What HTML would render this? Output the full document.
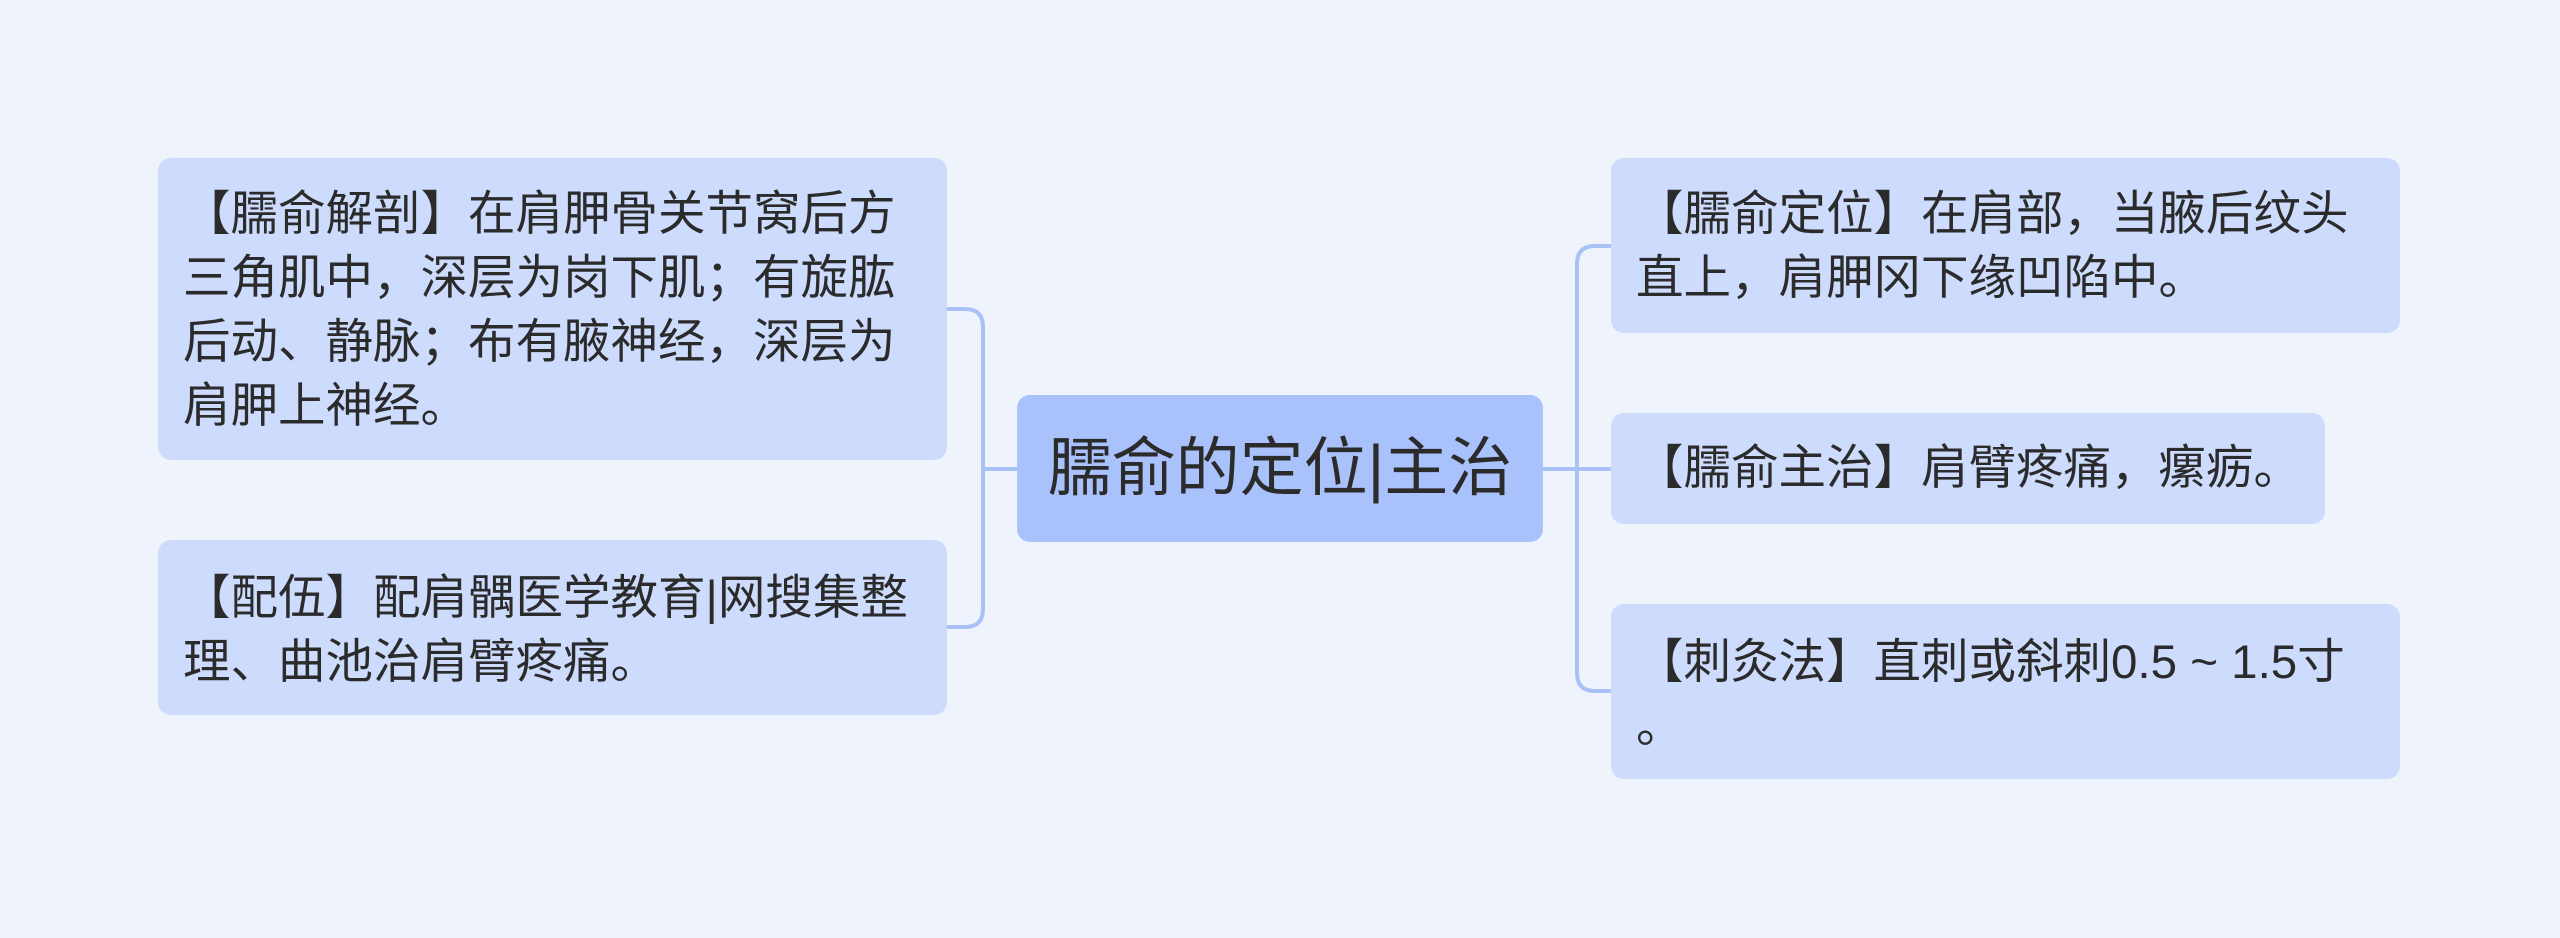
<!DOCTYPE html>
<html><head><meta charset="utf-8"><style>
body{margin:0;width:2560px;height:938px;background:#eef3fc;position:relative;overflow:hidden;font-family:"Liberation Sans","Noto Sans CJK SC",sans-serif;color:#2b2b2b}
.n{position:absolute;background:#cddbfc;border-radius:13px;box-sizing:border-box;font-size:47.5px;line-height:64px;padding-left:25px;white-space:nowrap}
.c{position:absolute;left:1017px;top:395px;width:526px;height:147px;background:#a9c2fc;border-radius:13px;font-size:64px;line-height:147px;text-align:center;white-space:nowrap}
svg{position:absolute;left:0;top:0}
</style></head><body>
<svg width="2560" height="938"><g fill="none" stroke="#a9c2f5" stroke-width="4">
<path d="M947 309 H965 Q983 309 983 327 V609 Q983 627 965 627 H947"/>
<path d="M983 469 H1017"/>
<path d="M1543 469 H1577"/>
<path d="M1611 246 H1595 Q1577 246 1577 264 V673 Q1577 691 1595 691 H1611"/>
<path d="M1577 469 H1611"/>
</g></svg>
<div class="n" style="left:158px;top:158px;width:789px;height:302px;padding-top:25px">【臑俞解剖】在肩胛骨关节窝后方<br>三角肌中，深层为岗下肌；有旋肱<br>后动、静脉；布有腋神经，深层为<br>肩胛上神经。</div>
<div class="n" style="left:158px;top:540px;width:789px;height:175px;padding-top:27px">【配伍】配肩髃医学教育|网搜集整<br>理、曲池治肩臂疼痛。</div>
<div class="c">臑俞的定位|主治</div>
<div class="n" style="left:1611px;top:158px;width:789px;height:175px;padding-top:25px">【臑俞定位】在肩部，当腋后纹头<br>直上，肩胛冈下缘凹陷中。</div>
<div class="n" style="left:1611px;top:413px;width:714px;height:111px;padding-top:24px">【臑俞主治】肩臂疼痛，瘰疬。</div>
<div class="n" style="left:1611px;top:604px;width:789px;height:175px;padding-top:27px">【刺灸法】直刺或斜刺0.5 ~ 1.5寸<br>。</div>
</body></html>
